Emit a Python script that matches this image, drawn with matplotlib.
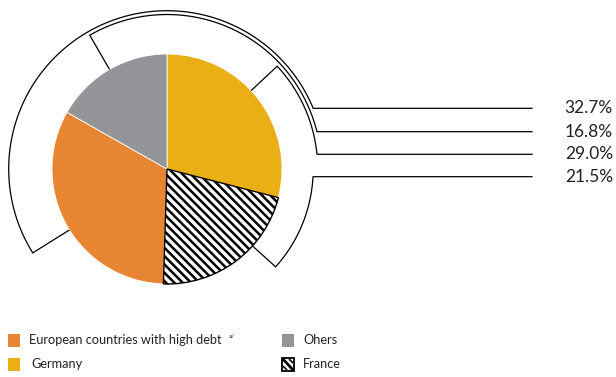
import numpy as np
import matplotlib
matplotlib.use("Agg")
import matplotlib.pyplot as plt
from matplotlib.patches import Rectangle

# ---- data ----
categories = ["Germany", "France", "European countries with high debt", "Ohers"]
shares = [29.0, 21.5, 32.7, 16.8]
label_order = ["European countries with high debt", "Ohers", "Germany", "France"]
colors = {"Germany": "#E9AF15", "France": "#FFFFFF",
          "European countries with high debt": "#E88532", "Ohers": "#949599"}

plt.rcParams['font.family'] = ['Lato', 'DejaVu Sans']
plt.rcParams['hatch.linewidth'] = 1.8

W, H = 616, 377
fig = plt.figure(figsize=(W / 100, H / 100), dpi=100)
ax = fig.add_axes([0, 0, 1, 1])

cx, cy, R = 167, H - 169, 115
wedges, _ = ax.pie(shares, colors=[colors[c] for c in categories], startangle=90,
                   counterclock=False, center=(cx, cy), radius=R, frame=True,
                   wedgeprops=dict(linewidth=0.6, edgecolor="white"))
fi = categories.index("France")
wedges[fi].set_hatch("\\\\\\\\")
wedges[fi].set_edgecolor("black")
wedges[fi].set_linewidth(1.0)
wedges[fi].set_zorder(3)

# ---- leader bands (layout) ----
band_start = {"European countries with high debt": 212, "Ohers": 120,
              "Germany": 43, "France": -42}
band_radius = {"European countries with high debt": 158.3, "Ohers": 154.5,
               "Germany": 150.7, "France": 146.2}
label_y_px = [108.3, 131.7, 154.3, 176.7]
line_end_x = 532
text_x = 613
lw = 0.9

for name, ypx in zip(label_order, label_y_px):
    idx = categories.index(name)
    r = band_radius[name]
    a0 = band_start[name]
    yl = H - ypx
    a1 = np.degrees(np.arcsin((yl - cy) / r))
    t0 = np.radians(a0)
    ax.plot([cx + R * np.cos(t0), cx + r * np.cos(t0)],
            [cy + R * np.sin(t0), cy + r * np.sin(t0)], color="black", lw=lw,
            solid_capstyle="butt")
    th = np.radians(np.linspace(a0, a1, 300))
    xs = list(cx + r * np.cos(th)) + [line_end_x]
    ys = list(cy + r * np.sin(th)) + [yl]
    ax.plot(xs, ys, color="black", lw=lw, solid_joinstyle="miter")
    ax.text(text_x, yl, f"{shares[idx]:.1f}%", ha="right", va="center",
            fontsize=12.5, color="#222222")

# ---- legend ----
leg_items = [("European countries with high debt", 8, 334, 29),
             ("Germany", 8, 358, 31),
             ("Ohers", 282, 334, 303),
             ("France", 282, 358, 303)]
for name, x, ytop, tx in leg_items:
    y0 = H - ytop - 13
    if name == "France":
        ax.add_patch(Rectangle((x, y0), 12, 13, facecolor="white",
                               edgecolor="black", lw=1.3))
        ax.plot([x + 1, x + 11], [y0 + 12, y0 + 1], color="black", lw=2.0,
                solid_capstyle="butt")
        ax.plot([x + 7, x + 11], [y0 + 12, y0 + 8], color="black", lw=1.2,
                solid_capstyle="butt")
        ax.plot([x + 1, x + 5], [y0 + 5, y0 + 1], color="black", lw=1.2,
                solid_capstyle="butt")
    else:
        ax.add_patch(Rectangle((x, y0), 12, 13, facecolor=colors[name],
                               edgecolor="none"))
    ax.text(tx, H - ytop - 6.5, name, ha="left", va="center", fontsize=9.2,
            color="#222222")
ax.text(229, H - 336.5, "a/", fontsize=4.5, ha="left", va="center", color="#222222")

ax.set_xlim(0, W)
ax.set_ylim(0, H)
ax.set_aspect("auto")
ax.axis("off")
fig.savefig("out.png", dpi=100)
